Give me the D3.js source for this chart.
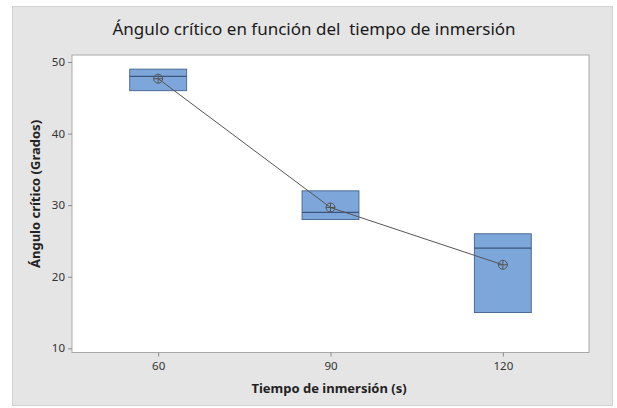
<!DOCTYPE html>
<html>
<head>
<meta charset="utf-8">
<script src="https://cdn.jsdelivr.net/npm/d3@7"></script>
<style>
  body { margin: 0; background: #fff; }
  text { font-family: "Noto Sans", "Open Sans", sans-serif; }
</style>
</head>
<body>
<div id="chart"></div>
<script>
const categories = ['60', '90', '120'];
const q1Values = [46, 28, 15];
const medianValues = [48, 29, 24];
const q3Values = [49, 32, 26];
const meanValues = [47.67, 29.67, 21.67];
const yTicks = [10, 20, 30, 40, 50];

const width = 617;
const height = 408;
const plot = { left: 72, right: 589, top: 55, bottom: 352.5 };

const svg = d3.select('#chart')
  .append('svg')
  .attr('width', width)
  .attr('height', height)
  .attr('viewBox', [0, 0, width, height]);

// panel de fondo
svg.append('rect')
  .attr('x', 12.5).attr('y', 6.5)
  .attr('width', 600).attr('height', 399)
  .attr('fill', '#e5e5e5')
  .attr('stroke', '#d2d2d2');

svg.append('rect')
  .attr('x', plot.left).attr('y', plot.top)
  .attr('width', plot.right - plot.left).attr('height', plot.bottom - plot.top)
  .attr('fill', '#fff')
  .attr('stroke', '#a9a9a9');

const x = d3.scalePoint()
  .domain(categories)
  .range([plot.left, plot.right])
  .padding(0.5);

const y = d3.scaleLinear()
  .domain([10, 50])
  .range([348.3, 62]);

const xAxis = svg.append('g')
  .attr('transform', `translate(0,${plot.bottom})`)
  .call(d3.axisBottom(x).tickSize(4).tickPadding(5));
const yAxis = svg.append('g')
  .attr('transform', `translate(${plot.left},0)`)
  .call(d3.axisLeft(y).tickValues(yTicks).tickSize(4).tickPadding(3));

[xAxis, yAxis].forEach(g => {
  g.select('.domain').remove();
  g.selectAll('.tick line').attr('stroke', '#8a8a8a');
  g.selectAll('.tick text')
    .attr('fill', '#333')
    .style('font-size', '11.5px');
});

const rows = categories.map((c, i) => ({
  cat: c, q1: q1Values[i], med: medianValues[i], q3: q3Values[i], mean: meanValues[i]
}));

const boxW = x.step() * 0.33;

const boxes = svg.append('g');
boxes.selectAll('rect')
  .data(rows)
  .enter()
  .append('rect')
  .attr('x', d => x(d.cat) - boxW / 2)
  .attr('y', d => y(d.q3))
  .attr('width', boxW)
  .attr('height', d => y(d.q1) - y(d.q3))
  .attr('fill', '#7da7da')
  .attr('stroke', '#4d6a94')
  .attr('stroke-width', 1);

boxes.selectAll('line.median')
  .data(rows)
  .enter()
  .append('line')
  .attr('class', 'median')
  .attr('x1', d => x(d.cat) - boxW / 2)
  .attr('x2', d => x(d.cat) + boxW / 2)
  .attr('y1', d => y(d.med))
  .attr('y2', d => y(d.med))
  .attr('stroke', '#3d5478')
  .attr('stroke-width', 1.2);

// linea de medias
const line = d3.line()
  .x(d => x(d.cat))
  .y(d => y(d.mean));

svg.append('path')
  .datum(rows)
  .attr('d', line)
  .attr('fill', 'none')
  .attr('stroke', '#555')
  .attr('stroke-width', 1);

const means = svg.append('g')
  .selectAll('g')
  .data(rows)
  .enter()
  .append('g')
  .attr('transform', d => `translate(${x(d.cat)},${y(d.mean)})`)
  .attr('stroke', '#555')
  .attr('fill', 'none');
means.append('circle').attr('r', 4.5);
means.append('path').attr('d', 'M-4.5,0H4.5M0,-4.5V4.5');

// titulos
svg.append('text')
  .attr('x', 314)
  .attr('y', 35)
  .attr('text-anchor', 'middle')
  .attr('fill', '#1a1a1a')
  .style('font-size', '17px')
  .style('white-space', 'pre')
  .text('Ángulo crítico en función del  tiempo de inmersión');

svg.append('text')
  .attr('x', 329)
  .attr('y', 393)
  .attr('text-anchor', 'middle')
  .attr('fill', '#222')
  .style('font-size', '13px')
  .style('font-weight', 'bold')
  .text('Tiempo de inmersión (s)');

svg.append('text')
  .attr('transform', 'translate(40,194) rotate(-90)')
  .attr('text-anchor', 'middle')
  .attr('fill', '#222')
  .style('font-size', '13px')
  .style('font-weight', 'bold')
  .text('Ángulo crítico (Grados)');
</script>
</body>
</html>
